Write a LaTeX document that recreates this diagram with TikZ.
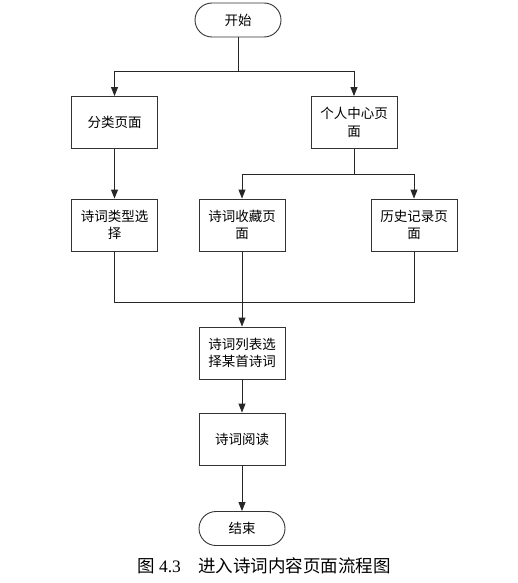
\documentclass[tikz,border=0pt]{standalone}
\usepackage{fontspec}
\setmainfont{Liberation Serif}
\newfontfamily\cjk{Noto Sans CJK SC}
\usetikzlibrary{arrows.meta,positioning}

\begin{document}
\begin{tikzpicture}[x=1pt, y=-1pt, >={Triangle[width=7pt,length=9pt]},
		flowbox/.style={draw=black!80, line width=0.9pt, minimum width=86pt, minimum height=52pt,
			inner sep=2pt, align=center, font=\cjk\fontsize{13.5}{17.5}\selectfont},
		terminal/.style={flowbox, rounded corners=17pt, minimum height=34pt},
		link/.style={draw=black!85, line width=0.9pt}]
		\useasboundingbox (0,0) rectangle (518,583);

		% Start and first split
		\node[terminal] (start) at (238,20) {开始};
		\node[flowbox] (classify) at (114.5,122.5) {分类页面};
		\node[flowbox] (center) at (354,122.5) {个人中心页\\面};
		\coordinate (split1) at (238,71);
		\draw[link] (start) -- (split1);
		\draw[link, ->] (split1) -| (classify);
		\draw[link, ->] (split1) -| (center);

		% Second row
		\node[flowbox] (type) at (114.5,225) {诗词类型选\\择};
		\node[flowbox] (favor) at (242,225) {诗词收藏页\\面};
		\node[flowbox] (history) at (414,225) {历史记录页\\面};
		\coordinate (split2) at (354,174);
		\draw[link, ->] (classify) -- (type);
		\draw[link] (center) -- (split2);
		\draw[link, ->] (split2) -| (favor);
		\draw[link, ->] (split2) -| (history);

		% Merge and lower column
		\node[flowbox] (list) at (242,353) {诗词列表选\\择某首诗词};
		\node[flowbox] (read) at (242,439) {诗词阅读};
		\node[terminal] (stop) at (242,528.5) {结束};
		\coordinate (merge) at (242,302);
		\draw[link] (type) |- (merge);
		\draw[link] (history) |- (merge);
		\draw[link, ->] (favor) -- (list);
		\draw[link, ->] (list) -- (read);
		\draw[link, ->] (read) -- (stop);

		% Caption
		\node[font=\fontsize{17.5}{21}\selectfont] (caption) at (264,566) {{\cjk 图} 4.3\quad{\cjk 进入诗词内容页面流程图}};
	\end{tikzpicture}
\end{document}
